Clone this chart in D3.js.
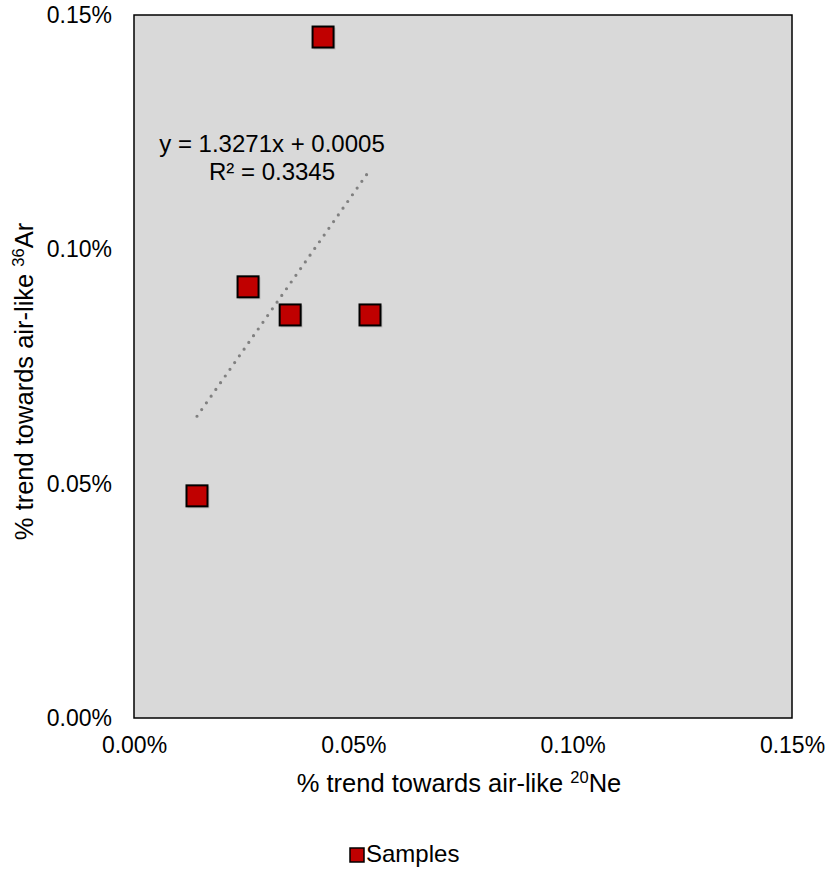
<!DOCTYPE html>
<html>
<head>
<meta charset="utf-8">
<script src="https://cdn.jsdelivr.net/npm/d3@7"></script>
<style>
body{margin:0;background:#fff;}
text{font-family:"Liberation Sans",Arial,sans-serif;fill:#000;}
</style>
</head>
<body>
<svg></svg>
<script>
// values, as fractions (0.0005 = 0.05%)
var sampleX = [0.000431, 0.000260, 0.000356, 0.000538, 0.0001436]
var sampleY = [0.001453, 0.000920, 0.000860, 0.000860, 0.000474]
var tickValues = [0, 0.0005, 0.0010, 0.0015]
var fitLabel = ["y = 1.3271x + 0.0005", "R\u00b2 = 0.3345"]

var screen = {width:827,height:869}
var margins = {left:134,right:35,top:15,bottom:151}
var graph = {
    width:screen.width-margins.left-margins.right,
    height:screen.height-margins.top-margins.bottom
}

var svg = d3.select("svg")
    .attr("width",screen.width)
    .attr("height",screen.height)

var xScale = d3.scaleLinear().domain([0,0.0015]).range([0,graph.width])
var yScale = d3.scaleLinear().domain([0,0.0015]).range([graph.height,0])
var fmt = d3.format(".2%")

var target = svg.append("g")
    .attr("transform","translate("+margins.left+","+margins.top+")")

target.append("rect")
    .attr("width",graph.width)
    .attr("height",graph.height)
    .attr("fill","#d9d9d9")
    .attr("stroke","#000")
    .attr("stroke-width",1.5)

// axes (tick labels only, Excel style)
var xAxis = target.append("g")
    .attr("transform","translate(0,"+graph.height+")")
    .call(d3.axisBottom(xScale).tickValues(tickValues).tickFormat(fmt).tickSize(0).tickPadding(19))
var yAxis = target.append("g")
    .call(d3.axisLeft(yScale).tickValues(tickValues).tickFormat(fmt).tickSize(0).tickPadding(22))
xAxis.select(".domain").remove()
yAxis.select(".domain").remove()
svg.selectAll(".tick text")
    .attr("font-size",23)
    .attr("font-family","Liberation Sans, Arial, sans-serif")
    .attr("fill","#000")

// linear trend from the samples
var points = sampleX.map(function(x,i){return {x:x,y:sampleY[i]}})
var mx = d3.mean(sampleX), my = d3.mean(sampleY)
var sxy = d3.sum(points,function(p){return (p.x-mx)*(p.y-my)})
var sxx = d3.sum(points,function(p){return (p.x-mx)*(p.x-mx)})
var slope = sxy/sxx, icpt = my-slope*mx
var x0 = d3.min(sampleX), x1 = d3.max(sampleX)
target.append("line")
    .attr("x1",xScale(x0)).attr("y1",yScale(slope*x0+icpt))
    .attr("x2",xScale(x1)).attr("y2",yScale(slope*x1+icpt))
    .attr("stroke","#808080")
    .attr("stroke-width",3.2)
    .attr("stroke-linecap","round")
    .attr("stroke-dasharray","0,8.2")

var fit = target.append("text")
    .attr("text-anchor","middle")
    .attr("font-size",24)
fit.selectAll("tspan")
    .data(fitLabel)
    .enter()
    .append("tspan")
    .attr("x",138)
    .attr("y",function(d,i){return 137+i*28})
    .text(function(d){return d})

// markers
var marks = target.selectAll(".pt")
    .data(points)
    .enter()
    .append("g")
    .attr("class","pt")
    .attr("transform",function(p){return "translate("+xScale(p.x)+","+yScale(p.y)+")"})
marks.append("rect")
    .attr("x",-9.5).attr("y",-9.5)
    .attr("width",22).attr("height",22)
    .attr("fill","#000").attr("opacity",0.12)
marks.append("rect")
    .attr("x",-10.5).attr("y",-10.5)
    .attr("width",21).attr("height",21)
    .attr("fill","#c00000")
    .attr("stroke","#000")
    .attr("stroke-width",2)

// axis titles
var xt = svg.append("text")
    .attr("text-anchor","middle")
    .attr("font-size",25.5)
    .attr("x",459)
    .attr("y",792)
xt.append("tspan").text("% trend towards air-like ")
xt.append("tspan").text("20").attr("font-size",16.5).attr("dy",-9)
xt.append("tspan").text("Ne").attr("dy",9)

var yt = svg.append("text")
    .attr("text-anchor","middle")
    .attr("font-size",25.5)
    .attr("transform","translate(33,"+(margins.top+graph.height/2+15)+") rotate(-90)")
yt.append("tspan").text("% trend towards air-like ")
yt.append("tspan").text("36").attr("font-size",16.5).attr("dy",-9)
yt.append("tspan").text("Ar").attr("dy",9)

// legend
var legend = svg.append("g")
    .attr("transform","translate(350,848)")
legend.append("rect")
    .attr("width",14).attr("height",14)
    .attr("fill","#c00000")
    .attr("stroke","#000")
    .attr("stroke-width",1.5)
legend.append("text")
    .text("Samples")
    .attr("x",16)
    .attr("y",14)
    .attr("font-size",24)
</script>
</body>
</html>
